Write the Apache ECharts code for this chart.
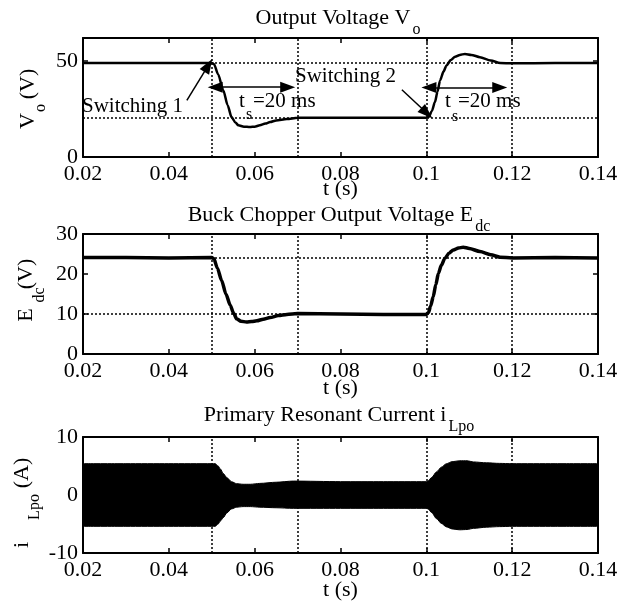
<!DOCTYPE html>
<html><head><meta charset="utf-8">
<script src="https://cdn.jsdelivr.net/npm/echarts@6/dist/echarts.min.js"></script>
<style>html,body{margin:0;padding:0;background:#fff}#c{width:632px;height:609px}</style>
</head><body><div id="c"></div>
<script>
// ---------- data ----------
const xTickLabels = ['0.02','0.04','0.06','0.08','0.1','0.12','0.14'];
const voTickLabels = ['0','50'];
const edcTickLabels = ['0','10','20','30'];
const iTickLabels = ['-10','0','10'];

// Output voltage Vo
const tVo = [0.02,0.03,0.04,0.05,0.0505,0.0515,0.0527,0.0537,0.0546,0.0555,0.0562,0.0575,0.0589,0.060,0.0612,0.0625,0.0636,0.065,0.0675,0.07,0.08,0.09,0.1,0.1006,0.1013,0.102,0.1026,0.1032,0.104,0.1047,0.1057,0.1067,0.1078,0.109,0.1105,0.1125,0.115,0.1172,0.12,0.13,0.14];
const vo  = [49,49,49,49,48.5,43,34.7,27,20.8,18,16.5,15.8,15.6,15.8,16.5,17.4,18.2,19,19.8,20.4,20.5,20.4,20.5,21,24,28.6,34,39.9,44.5,47.7,50.5,52.2,53.2,53.7,53.2,52,50.3,49,48.8,49,49];

// Buck chopper output voltage Edc
const tEdc = [0.02,0.03,0.04,0.05,0.0505,0.0513,0.0523,0.0533,0.0543,0.0551,0.0558,0.0568,0.0581,0.0593,0.0605,0.062,0.0636,0.0655,0.0675,0.07,0.08,0.09,0.1,0.1005,0.101,0.1016,0.1022,0.1028,0.1035,0.1043,0.1053,0.1063,0.1075,0.1086,0.11,0.1125,0.115,0.1172,0.12,0.13,0.14];
const edc  = [24.1,24.1,24,24.1,23.8,21.5,18.4,15,12.2,10.2,8.8,8.2,8.0,8.1,8.3,8.7,9.1,9.6,9.9,10.1,10,9.9,9.9,10.4,12,14.3,17.3,20.1,22.2,23.9,25.2,26,26.5,26.7,26.4,25.6,24.8,24.2,24,24.1,24];

// Primary resonant current envelope
const tI = [0.02,0.03,0.04,0.05,0.0508,0.0515,0.052,0.0527,0.0535,0.0546,0.0558,0.0573,0.059,0.0612,0.065,0.069,0.08,0.09,0.1,0.1004,0.1012,0.1024,0.1035,0.1047,0.106,0.1078,0.1095,0.111,0.114,0.117,0.12,0.13,0.14];
const iUpper = [5.4,5.4,5.4,5.4,5.4,5.0,4.5,3.7,3.0,2.3,1.95,1.85,1.85,2.0,2.2,2.4,2.3,2.3,2.3,2.4,3.0,4.0,4.8,5.4,5.75,5.9,5.9,5.7,5.55,5.45,5.4,5.4,5.4];
const iLower = [-5.4,-5.4,-5.4,-5.4,-5.4,-5.0,-4.5,-3.9,-3.1,-2.4,-2.1,-2.0,-2.0,-2.1,-2.2,-2.3,-2.3,-2.3,-2.3,-2.4,-3.0,-4.1,-4.9,-5.5,-5.85,-6.0,-5.95,-5.75,-5.55,-5.45,-5.4,-5.4,-5.4];

// reference (dotted) lines
const voVLines = [0.0506, 0.0677, 0.1003, 0.1171];
const voHLines = [49, 20.5];
const edcVLines = [0.05, 0.0692, 0.1, 0.12];
const edcHLines = [24, 10];
const iVLines = [0.05, 0.069, 0.1, 0.12];

// annotation geometry (data coords)
const arrow1 = [[0.0442, 29.5], [0.0492, 47.7]];
const arrow2 = [[0.0943, 35.0], [0.1001, 22.9]];
const ts1 = [[0.0508, 36.4], [0.0677, 36.4]];
const ts2 = [[0.1006, 36.2], [0.1171, 36.2]];

// ---------- chart ----------
const FONT = 'Liberation Serif';
const chart = echarts.init(document.getElementById('c'), null, {renderer:'canvas'});
const grids = [
  {left:83, top:38, width:515, height:119},
  {left:83, top:234, width:515, height:120},
  {left:83, top:437, width:515, height:116}
];
const lineBlack = {color:'#000', width:2};
function fmtFrom(list){ return v => { const s = String(parseFloat(v.toFixed(4))); return list.includes(s) ? s : ''; }; }
const xAxes = [], yAxes = [];
const yRanges = [[0,62,50,voTickLabels],[0,30,10,edcTickLabels],[-10,10,10,iTickLabels]];
grids.forEach((g,i)=>{
  xAxes.push({type:'value', gridIndex:i, position:'bottom', min:0.02, max:0.14, interval:0.02,
    axisLine:{show:true, onZero:false, lineStyle:lineBlack},
    axisTick:{show:true, inside:true, length:5, lineStyle:{color:'#000',width:1.5}},
    axisLabel:{color:'#000', fontFamily:FONT, fontSize:22, margin:6, formatter: fmtFrom(xTickLabels)},
    splitLine:{show:false}
  });
  xAxes.push({type:'value', gridIndex:i, position:'top', min:0.02, max:0.14, interval:0.02,
    axisLine:{show:true, onZero:false, lineStyle:lineBlack},
    axisTick:{show:true, inside:true, length:5, lineStyle:{color:'#000',width:1.5}},
    axisLabel:{show:false}, splitLine:{show:false}});
  const r = yRanges[i];
  yAxes.push({type:'value', gridIndex:i, position:'left', min:r[0], max:r[1], interval:r[2],
    axisLine:{show:true, onZero:false, lineStyle:lineBlack},
    axisTick:{show:true, inside:true, length:5, lineStyle:{color:'#000',width:1.5}},
    axisLabel:{color:'#000', fontFamily:FONT, fontSize:22, margin:5, formatter: fmtFrom(r[3])},
    splitLine:{show:false}});
  yAxes.push({type:'value', gridIndex:i, position:'right', min:r[0], max:r[1], interval:r[2],
    axisLine:{show:true, onZero:false, lineStyle:lineBlack},
    axisTick:{show:true, inside:true, length:5, lineStyle:{color:'#000',width:1.5}},
    axisLabel:{show:false}, splitLine:{show:false}});
});

const dotted = {color:'#000', width:1.5, type:[2,2]};
function refLines(gi, vl, hl, extra){
  const data = vl.map(v=>({xAxis:v})).concat(hl.map(v=>({yAxis:v}))).concat(extra||[]);
  return {type:'line', xAxisIndex:2*gi, yAxisIndex:2*gi, data:[], z:1, silent:true,
    markLine:{silent:true, symbol:'none', label:{show:false}, lineStyle:dotted, animation:false, data:data}};
}
function seg(a,b){ return [{coord:a},{coord:b}]; }
const solid = {color:'#000', width:1.5, type:'solid'};
const annot = {type:'line', xAxisIndex:0, yAxisIndex:0, data:[], z:6, silent:true,
  markLine:{silent:true, label:{show:false}, animation:false, lineStyle:solid, symbolSize:[11,15],
    data:[
      [{coord:arrow1[0], symbol:'none'},{coord:arrow1[1], symbol:'triangle'}],
      [{coord:arrow2[0], symbol:'none'},{coord:arrow2[1], symbol:'triangle'}],
      [{coord:ts1[0], symbol:'triangle'},{coord:ts1[1], symbol:'triangle'}],
      [{coord:ts2[0], symbol:'triangle'},{coord:ts2[1], symbol:'triangle'}]
    ]}};

const series = [
  refLines(0, voVLines, voHLines, [seg([voVLines[2],0],[voVLines[3],0])]),
  refLines(1, edcVLines, edcHLines),
  refLines(2, iVLines, [], [seg([iVLines[0],10],[iVLines[1],10]), seg([iVLines[2],-10],[iVLines[3],-10])]),
  {type:'line', xAxisIndex:0, yAxisIndex:0, z:5, showSymbol:false, smooth:0.25, smoothMonotone:'x',
   lineStyle:{color:'#000', width:2.5}, data:tVo.map((t,i)=>[t,vo[i]])},
  {type:'line', xAxisIndex:2, yAxisIndex:2, z:5, showSymbol:false, smooth:0.25, smoothMonotone:'x',
   lineStyle:{color:'#000', width:3.5}, data:tEdc.map((t,i)=>[t,edc[i]])},
  {type:'line', xAxisIndex:4, yAxisIndex:4, z:5, showSymbol:false, smooth:0.25, smoothMonotone:'x',
   lineStyle:{color:'#000', width:1}, areaStyle:{color:'#000', opacity:1, origin:0}, data:tI.map((t,i)=>[t,iUpper[i]])},
  {type:'line', xAxisIndex:4, yAxisIndex:4, z:5, showSymbol:false, smooth:0.25, smoothMonotone:'x',
   lineStyle:{color:'#000', width:1}, areaStyle:{color:'#000', opacity:1, origin:0}, data:tI.map((t,i)=>[t,iLower[i]])},
  annot
];

// text helpers
const mctx = document.createElement('canvas').getContext('2d');
function tw(text,size){ mctx.font = size+'px "'+FONT+'"'; return mctx.measureText(text).width; }
function T(x,y,text,size,extra){
  return Object.assign({type:'text', x:x, y:y, silent:true, z:100,
    style:Object.assign({text:text, fill:'#000', font:size+'px "'+FONT+'"', textAlign:'left', textVerticalAlign:'middle'}, extra||{})});
}
function R(x,y,text,size){ // rotated (reads bottom-to-top), centred at x,y
  return {type:'text', x:x, y:y, rotation:Math.PI/2, silent:true, z:100,
    style:{text:text, fill:'#000', font:size+'px "'+FONT+'"', textAlign:'center', textVerticalAlign:'middle'}};
}
function titleWithSub(cx, y, main, sub){
  const w1 = tw(main,22), w2 = tw(sub,16);
  const x0 = cx - (w1 + 2 + w2)/2;
  return [T(x0, y, main, 22), T(x0 + w1 + 2, y + 12, sub, 16)];
}
const graphic = [].concat(
  titleWithSub(338, 18, 'Output Voltage V', 'o'),
  titleWithSub(339, 215, 'Buck Chopper Output Voltage E', 'dc'),
  titleWithSub(339, 415, 'Primary Resonant Current i', 'Lpo'),
  [
  // x-axis names
  T(340.5,189,'t (s)',22,{textAlign:'center'}),
  T(340.5,388,'t (s)',22,{textAlign:'center'}),
  T(340.5,590,'t (s)',22,{textAlign:'center'}),
  // y-axis names
  R(28,121,'V',22), R(41,108,'o',16), R(28,84,'(V)',22),
  R(26,315,'E',22), R(40,295,'dc',16), R(26,274,'(V)',22),
  R(22,545,'i',22), R(35,507,'Lpo',16), R(22,473,'(A)',22),
  // annotations
  T(82,106,'Switching 1',21), T(295,76,'Switching 2',21),
  T(239,101,'t',21), T(246,115,'s',16), T(253,101,'=20 ms',21),
  T(445,101,'t',21), T(452,117,'s',16), T(458,101,'=20 ms',21)
  ]);

chart.setOption({animation:false, backgroundColor:'#fff', grid:grids, xAxis:xAxes, yAxis:yAxes, series:series, graphic:graphic});
</script></body></html>
